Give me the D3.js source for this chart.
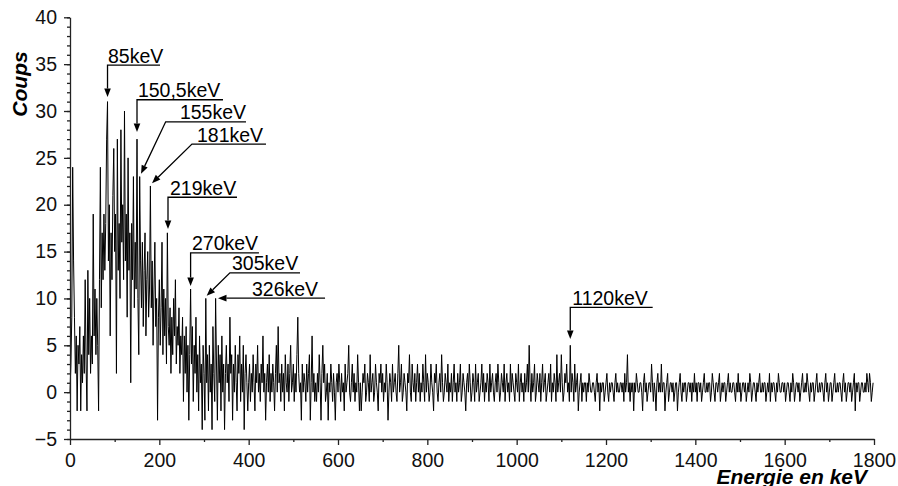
<!DOCTYPE html>
<html><head><meta charset="utf-8">
<script src="https://cdn.jsdelivr.net/npm/d3@7"></script>
<style>body{margin:0;background:#fff}svg{display:block}</style>
</head><body><svg id="c" width="898" height="486"></svg>
<script>
// ---- data (counts per 2 keV channel) ----
const binWidth = 2;
const counts_0_98 = [0,3,8,24,14,8,2,6,-2,5,3,7,-2,4,1,6,2,12,3,-2,13,4,10,2,6,
  3,19,6,11,4,10,5,-2,12,24,9,17,12,19,13,18,27,31,14,20,6,17,12,21,26];
const counts_100_198 = [15,19,2,27,13,18,10,28,16,20,12,30,14,19,8,25,13,17,1,18,12,23,9,16,11,
  27,10,4,23,14,9,16,7,13,17,6,12,15,8,11,22,9,14,5,11,16,7,10,-3,8];
const counts_200_298 = [12,5,9,16,4,11,6,10,3,17,7,5,9,2,8,4,10,6,12,3,7,5,9,2,6,
  4,8,-1,6,2,7,0,5,-3,4,11,3,7,-1,5,2,8,0,4,-2,6,1,3,-4,5];
const counts_300_398 = [2,-3,10,1,4,-2,5,0,3,-4,7,2,-1,10,3,-3,5,1,4,-2,6,0,3,-4,2,
  5,1,3,-1,8,2,4,-3,3,0,5,1,-2,4,2,6,-1,3,0,5,-4,2,4,1,-2];
const counts_400_548 = [1,3,-1,2,0,4,1,-2,3,1,5,0,2,-1,3,1,6,0,2,-3,1,3,0,4,-1,
  2,0,3,1,-2,2,5,0,7,1,2,-1,3,0,2,-2,4,1,0,3,-1,2,5,0,1,
  3,-1,2,0,4,8,2,0,1,-3,3,0,2,1,-1,3,0,2,4,-3,1,6,0,2,-1];
const counts_550_798 = [1,-1,2,0,4,1,-3,2,5,1,3,-1,0,2,-3,1,0,3,1,-1,2,0,-3,1,2,
  0,3,1,-1,2,0,1,-2,3,0,1,2,5,0,-1,1,3,0,2,-1,1,0,4,1,-2,
  1,-2,0,2,1,3,-1,0,2,1,-1,4,0,1,2,-1,0,3,1,0,-2,2,1,3,0,
  2,-1,1,0,3,1,-3,0,2,1,-1,3,0,1,2,0,-1,2,5,0,1,3,-1,0,2,
  1,0,-2,2,1,4,0,-1,3,1,0,2,-1,1,3,0,2,-1,1,0,3,1,-1,4,0];
const counts_800_1148 = [2,1,-1,0,3,1,0,-2,2,1,3,0,-1,1,2,0,4,1,-1,0,2,1,0,3,-1,
  1,0,2,-1,1,3,0,1,-1,2,0,1,3,-1,0,2,1,0,-2,1,2,0,3,1,-1,
  0,2,1,-1,3,0,1,2,-1,0,1,3,0,2,-1,1,0,2,1,-1,3,0,1,2,0,
  -1,1,2,0,3,1,-1,0,2,1,0,3,-1,1,2,0,1,-1,3,0,2,1,0,-1,2,
  1,0,3,-1,1,2,0,1,-1,2,0,1,3,0,5,1,-1,2,0,1,3,-1,0,2,1,
  0,2,-1,1,3,0,1,2,-1,0,1,2,0,3,-1,1,0,2,1,-1,4,0,1,2,0,
  4,1,-1,0,2,1,3,0,1,-1,5,0,2,1,-1,3,0,1,2,-2,0,1,2,-1,1];
const counts_1150_1498 = [0,1,1,-1,1,0,2,1,0,0,1,1,0,-1,1,2,0,1,-2,1,0,1,1,-1,0,
  1,2,0,-1,1,0,1,1,0,-1,1,2,0,1,0,0,1,1,0,1,-1,2,0,1,4,
  0,1,-1,1,0,1,-2,1,0,2,1,0,0,1,1,0,-2,1,2,0,1,-1,0,1,1,
  0,3,1,-1,1,0,-2,1,2,0,1,0,3,0,1,1,-2,0,1,2,-1,0,1,1,0,
  1,-1,0,1,1,-2,0,1,2,0,-1,1,0,1,1,-1,0,1,1,0,1,-1,1,0,2,
  0,1,-1,1,1,0,1,-1,0,1,2,0,0,1,0,1,1,-1,0,2,1,0,-1,1,1,
  0,1,2,-1,0,1,0,1,1,-1,0,1,2,0,1,0,0,1,1,0,-1,1,0,2,0];
const counts_1500_1798 = [1,-1,0,1,1,0,1,-1,0,1,0,2,1,-1,0,1,1,0,-1,1,0,1,2,0,0,
  1,0,1,1,-1,0,1,0,2,-1,1,0,1,1,0,-1,1,0,2,1,0,0,1,1,0,
  1,-1,0,1,1,0,-1,1,0,2,1,-1,0,1,1,0,1,-1,0,1,2,0,0,1,0,
  2,1,0,-1,1,0,1,1,-1,0,1,2,0,0,1,0,1,1,0,-1,1,2,0,1,-1,
  0,1,1,-1,0,1,2,0,0,1,0,1,1,0,-1,1,2,0,1,-1,0,1,1,0,1,
  -1,0,1,2,-2,1,0,1,1,-1,0,1,1,0,0,1,0,2,1,0,2,1,-1,0,1];

const xTicks = [0,200,400,600,800,1000,1200,1400,1600,1800];
const xMinorTicks = [100,300,500,700,900,1100,1300,1500,1700];
const yTicks = [-5,0,5,10,15,20,25,30,35,40];
const yMinorTicks = d3.range(-5, 41, 1);

const peakLabels = ["85keV","150,5keV","155keV","181keV","219keV","270keV","305keV","326keV","1120keV"];

// ---- annotation layout (data units: [keV, counts]) ----
const annoLayout = [
  {tip:[84,31.5],    elbow:[84,34.9],     end:201.5,  tx:85},
  {tip:[150,27.75],  elbow:[150,31.2],    end:342.5,  tx:152},
  {tip:[159,23.3],   elbow:[214.2,28.85], end:394,    tx:246},
  {tip:[183.6,22.3], elbow:[273,26.47],   end:438.8,  tx:284.3},
  {tip:[219.4,17.4], elbow:[219.4,20.8],  end:373.9,  tx:223.9},
  {tip:[270,11.34],  elbow:[270,14.87],   end:423,    tx:273},
  {tip:[306,10.28],  elbow:[358,12.73],   end:515,    tx:362.7},
  {tip:[331.3,10.03],elbow:null,          end:571,    tx:407.4},
  {tip:[1120,5.66],  elbow:[1120,9.04],   end:1304.5, tx:1124.5}
];

const counts = [].concat(counts_0_98, counts_100_198, counts_200_298, counts_300_398,
  counts_400_548, counts_550_798, counts_800_1148, counts_1150_1498, counts_1500_1798);
const spectrum = counts.map((c,i)=>({e:i*binWidth, c}));

const svg = d3.select("#c");
svg.append("rect").attr("width",898).attr("height",486).attr("fill","#fff");

const x = d3.scaleLinear().domain([0,1800]).range([70,874]);
const y = d3.scaleLinear().domain([-5,40]).range([439,17.3]);

const font = "'Liberation Sans', Arial, Helvetica, sans-serif";

// spectrum line
svg.append("path")
  .datum(spectrum)
  .attr("fill","none")
  .attr("stroke","#000")
  .attr("stroke-width",1)
  .attr("d", d3.line().x(d=>x(d.e)).y(d=>y(d.c)));

// axes
const axisColor = "#222";
function styleAxis(g){
  g.selectAll("path,line").attr("stroke",axisColor).attr("stroke-width",1.3);
  g.selectAll("text").attr("font-family",font).attr("font-size","19.5px").attr("fill","#111");
}
svg.append("g").attr("transform",`translate(0,${y(-5)})`)
  .call(d3.axisBottom(x).tickValues(xMinorTicks).tickSize(3).tickFormat(""))
  .call(g=>g.select(".domain").remove()).call(styleAxis);
svg.append("g").attr("transform",`translate(0,${y(-5)})`)
  .call(d3.axisBottom(x).tickValues(xTicks).tickSize(6).tickSizeOuter(0).tickPadding(8).tickFormat(d3.format("d")))
  .call(styleAxis);
svg.append("g").attr("transform",`translate(${x(0)},0)`)
  .call(d3.axisLeft(y).tickValues(yMinorTicks).tickSize(3).tickFormat(""))
  .call(g=>g.select(".domain").remove()).call(styleAxis);
svg.append("g").attr("transform",`translate(${x(0)},0)`)
  .call(d3.axisLeft(y).tickValues(yTicks).tickSize(6).tickSizeOuter(0).tickPadding(7).tickFormat(d3.format("d")))
  .call(styleAxis);

// axis titles
svg.append("text")
  .attr("transform",`translate(27,84) rotate(-90)`)
  .attr("text-anchor","middle")
  .attr("font-family",font).attr("font-size","21px")
  .attr("font-weight","bold").attr("font-style","italic")
  .text("Coups");
svg.append("text")
  .attr("x",867).attr("y",484)
  .attr("text-anchor","end")
  .attr("font-family",font).attr("font-size","21px")
  .attr("font-weight","bold").attr("font-style","italic")
  .text("Energie en keV");

// annotations
const ag = svg.append("g");
annoLayout.forEach((a,i)=>{
  const tip = [x(a.tip[0]), y(a.tip[1])];
  let pts;
  if (a.elbow){
    const el = [x(a.elbow[0]), y(a.elbow[1])];
    pts = [[x(a.end), el[1]], el, tip];
  } else {
    pts = [[x(a.end), tip[1]], tip];
  }
  const prev = pts[pts.length-2];
  const dx = tip[0]-prev[0], dy = tip[1]-prev[1];
  const len = Math.hypot(dx,dy);
  const ux = dx/len, uy = dy/len;
  const hl = 8.5, hw = 3.3;
  const base = [tip[0]-ux*hl, tip[1]-uy*hl];
  const linePts = pts.slice(0,-1).concat([base]);
  ag.append("path")
    .attr("d", d3.line()(linePts))
    .attr("fill","none").attr("stroke","#000").attr("stroke-width",1.3);
  ag.append("path")
    .attr("d", d3.line()([tip, [base[0]-uy*hw, base[1]+ux*hw], [base[0]+uy*hw, base[1]-ux*hw]]) + "Z")
    .attr("fill","#000");
  const baseY = (a.elbow ? y(a.elbow[1]) : tip[1]) - 2.5;
  ag.append("text")
    .attr("x", x(a.tx)).attr("y", baseY)
    .attr("font-family",font).attr("font-size","19.5px").attr("fill","#000")
    .text(peakLabels[i]);
});
</script>
</body></html>
